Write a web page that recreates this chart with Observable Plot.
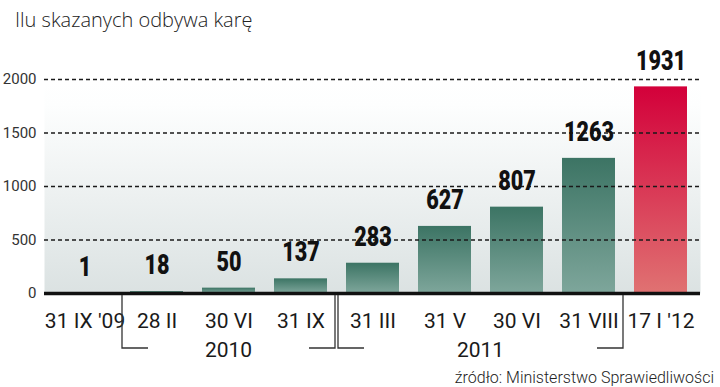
<!DOCTYPE html>
<html><head><meta charset="utf-8">
<script src="https://cdn.jsdelivr.net/npm/d3@7"></script>
<script src="https://cdn.jsdelivr.net/npm/@observablehq/plot@0.6"></script>
<style>
body{margin:0;background:#fff;width:720px;height:387px;overflow:hidden;font-family:Roboto,sans-serif;}
#title{height:40px;line-height:40px;padding-left:15px;font-family:"Open Sans",sans-serif;font-weight:300;font-size:20px;color:#222;white-space:nowrap;}
#chart{height:328px;}
#source{height:19px;line-height:19px;text-align:right;padding-right:6px;font-family:Roboto,sans-serif;font-weight:300;font-size:16px;color:#222;white-space:nowrap;}
</style></head><body>
<div id="title">Ilu skazanych odbywa karę</div>
<div id="chart"></div>
<div id="source">źródło: Ministerstwo Sprawiedliwości</div>
<script>
const dates = ["31 IX '09", "28 II", "30 VI", "31 IX", "31 III", "31 V", "30 VI", "31 VIII", "17 I '12"];
const values = [1, 18, 50, 137, 283, 627, 807, 1263, 1931];
const highlightIndex = 8;
const yearLabels = ["2010", "2011"];
const yearFirst = [1, 4];
const yearLast = [3, 7];
const yTicks = [0, 500, 1000, 1500, 2000];

const data = values.map((v, i) => ({i, v, hi: i === highlightIndex}));

function defs() {
  const d = d3.create("svg:defs");
  const mk = (id, stops) => {
    const lg = d.append("linearGradient").attr("id", id).attr("x1", 0).attr("y1", 0).attr("x2", 0).attr("y2", 1);
    stops.forEach(([o, c]) => lg.append("stop").attr("offset", o).attr("stop-color", c));
  };
  mk("bgGrad", [[0, "#ffffff"], [0.12, "#fdfefe"], [1, "#dbe2e2"]]);
  mk("greenGrad", [[0, "#3c7464"], [1, "#7ea69b"]]);
  mk("redGrad", [[0, "#d3003a"], [1, "#e07272"]]);
  return d.node();
}

const plot = Plot.plot({
  width: 720, height: 328,
  marginTop: 39, marginBottom: 75, marginLeft: 44, marginRight: 20,
  style: {fontFamily: "Roboto, sans-serif", background: "transparent", overflow: "visible"},
  x: {type: "band", domain: d3.range(dates.length), paddingInner: 0.27, paddingOuter: 0.14},
  y: {domain: [0, 2000]},
  marks: [
    defs,
    Plot.frame({fill: "url(#bgGrad)", stroke: "none"}),
    Plot.barY(data.filter(d => !d.hi), {x: "i", y: "v", fill: "url(#greenGrad)"}),
    Plot.barY(data.filter(d => d.hi), {x: "i", y: "v", fill: "url(#redGrad)"}),
    Plot.ruleY(yTicks.filter(t => t > 0), {stroke: "#1a1a1a", strokeWidth: 1.3, strokeDasharray: "4,3"}),
    Plot.ruleY([0], {stroke: "#111", strokeWidth: 3.5}),
    Plot.axisY({ticks: yTicks, tickSize: 0, tickPadding: 8, fontSize: 15, fill: "#333", label: null, tickFormat: d => String(d)}),
    Plot.axisX({tickSize: 0, tickPadding: 20, fontSize: 21, fill: "#1a1a1a", tickFormat: i => dates[i], label: null}),
    Plot.text(data, {x: "i", y: "v", text: d => String(d.v), dy: -26, fontSize: 27, fontWeight: 900,
      fontFamily: "Roboto, sans-serif", fill: "#111", className: "vlabel"})
  ]
});

const svg = d3.select(plot);
// condense the value labels horizontally
svg.selectAll(".vlabel text").each(function () {
  const t = d3.select(this);
  const tr = t.attr("transform") || "";
  const m = /translate\(([-\d.]+),([-\d.]+)\)/.exec(tr);
  if (m) {
    t.attr("transform", `translate(${m[1]},${m[2]}) scale(0.8,1)`);
  } else {
    const x = +t.attr("x") || 0;
    t.attr("transform", `translate(${x},0) scale(0.8,1) translate(${-x},0)`);
  }
});
const xs = plot.scale("x"), ys = plot.scale("y");
const bw = xs.bandwidth;
const step = xs.step || bw / (1 - 0.27);
const y0 = ys.apply(0);
const g = svg.append("g").attr("stroke", "#333").attr("stroke-width", 1.3).attr("fill", "none");
yearLabels.forEach((lab, k) => {
  const left = xs.apply(yearFirst[k]) - (step - bw) / 2 + 1.5;
  const right = xs.apply(yearLast[k]) + bw + (step - bw) / 2 - 1.5;
  const yb = y0 + 55;
  g.append("path").attr("d", `M${left},${y0 + 2}V${yb}H${left + 26}M${right},${y0 + 2}V${yb}H${right - 26}`);
  svg.append("text").attr("x", (left + right) / 2).attr("y", y0 + 64)
    .attr("text-anchor", "middle").attr("font-size", 21).attr("fill", "#1a1a1a").text(lab);
});
document.getElementById("chart").appendChild(plot);
</script>
</body></html>
